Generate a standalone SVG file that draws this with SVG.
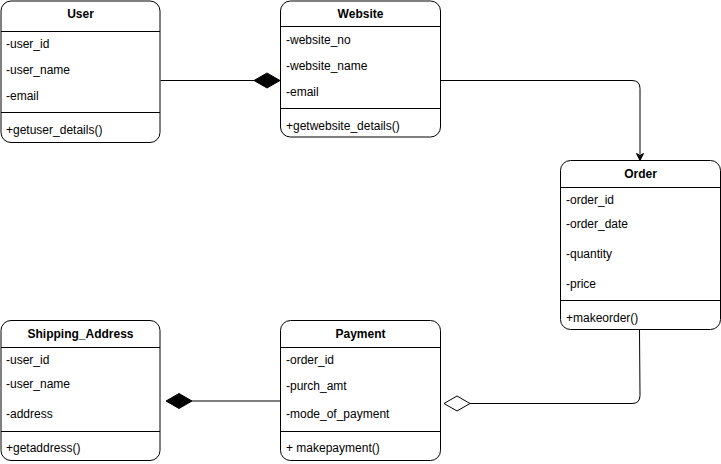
<svg xmlns="http://www.w3.org/2000/svg" width="721" height="464" viewBox="0 0 721 464">
<style>
.box{fill:#fff;stroke:#000;stroke-width:1}
.sep{stroke:#000;stroke-width:1}
.t{font-family:"Liberation Sans",Arial,sans-serif;font-size:12px;fill:#000}
.h{font-family:"Liberation Sans",Arial,sans-serif;font-size:12px;font-weight:bold;fill:#000;text-anchor:middle}
.edge{fill:none;stroke:#000;stroke-width:1}
</style>
<rect width="721" height="464" fill="#fff"/>
<g id="connectors">
  <path class="edge" d="M160.5,80.5 H254"/>
  <path d="M254,80.5 L267,73 L280,80.5 L267,88 Z" fill="#000" stroke="#000"/>
  <path class="edge" d="M440.5,80.5 H632 Q640,80.5 640,88.5 V154"/>
  <path d="M640,160.5 L636.5,153.5 L640,155.25 L643.5,153.5 Z" fill="#000" stroke="#000"/>
  <path class="edge" d="M280.5,401 H192"/>
  <path d="M166,401 L179,393.5 L192,401 L179,408.5 Z" fill="#000" stroke="#000"/>
  <path class="edge" d="M639.5,330 L640,395.5 Q640,403.5 632,403.5 H470"/>
  <path d="M444,403.5 L457,396 L470,403.5 L457,411 Z" fill="#fff" stroke="#000"/>
</g>
<g id="user">
  <rect class="box" x="1" y="1" width="159" height="141.5" rx="10"/>
  <line class="sep" x1="1" y1="31.5" x2="160" y2="31.5"/>
  <line class="sep" x1="1" y1="112.5" x2="160" y2="112.5"/>
  <text class="h" x="80.5" y="18">User</text>
  <text class="t" x="6" y="48">-user_id</text>
  <text class="t" x="6" y="74">-user_name</text>
  <text class="t" x="6" y="100">-email</text>
  <text class="t" x="6" y="134">+getuser_details()</text>
</g>
<g id="website">
  <rect class="box" x="280.5" y="1" width="160" height="136" rx="10"/>
  <line class="sep" x1="280.5" y1="26.5" x2="440.5" y2="26.5"/>
  <line class="sep" x1="280.5" y1="108.5" x2="440.5" y2="108.5"/>
  <text class="h" x="360.5" y="18">Website</text>
  <text class="t" x="286" y="44">-website_no</text>
  <text class="t" x="286" y="70">-website_name</text>
  <text class="t" x="286" y="96">-email</text>
  <text class="t" x="286" y="130">+getwebsite_details()</text>
</g>
<g id="order">
  <rect class="box" x="560.5" y="160.5" width="160" height="169" rx="10"/>
  <line class="sep" x1="560.5" y1="187.5" x2="720.5" y2="187.5"/>
  <line class="sep" x1="560.5" y1="300.5" x2="720.5" y2="300.5"/>
  <text class="h" x="640.5" y="178">Order</text>
  <text class="t" x="566" y="204">-order_id</text>
  <text class="t" x="566" y="228">-order_date</text>
  <text class="t" x="566" y="258">-quantity</text>
  <text class="t" x="566" y="288">-price</text>
  <text class="t" x="566" y="322">+makeorder()</text>
</g>
<g id="shipping_address">
  <rect class="box" x="1" y="320.5" width="159" height="140" rx="10"/>
  <line class="sep" x1="1" y1="347.5" x2="160" y2="347.5"/>
  <line class="sep" x1="1" y1="431.5" x2="160" y2="431.5"/>
  <text class="h" x="80.5" y="338">Shipping_Address</text>
  <text class="t" x="6" y="364">-user_id</text>
  <text class="t" x="6" y="388">-user_name</text>
  <text class="t" x="6" y="418">-address</text>
  <text class="t" x="6" y="452">+getaddress()</text>
</g>
<g id="payment">
  <rect class="box" x="280.5" y="320.5" width="160" height="140" rx="10"/>
  <line class="sep" x1="280.5" y1="347.5" x2="440.5" y2="347.5"/>
  <line class="sep" x1="280.5" y1="431.5" x2="440.5" y2="431.5"/>
  <text class="h" x="360.5" y="338">Payment</text>
  <text class="t" x="286" y="364">-order_id</text>
  <text class="t" x="286" y="390">-purch_amt</text>
  <text class="t" x="286" y="418">-mode_of_payment</text>
  <text class="t" x="286" y="452">+ makepayment()</text>
</g>
</svg>
